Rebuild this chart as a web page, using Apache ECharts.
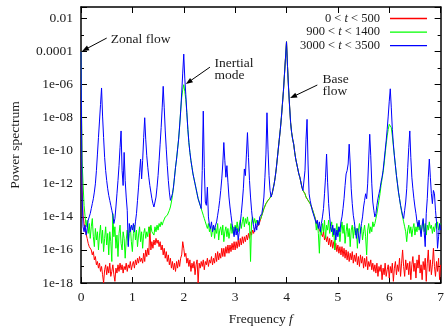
<!DOCTYPE html>
<html>
<head>
<meta charset="utf-8">
<script src="https://cdn.jsdelivr.net/npm/echarts@6/dist/echarts.min.js"></script>
<style>
  html, body { margin: 0; padding: 0; background: #fff; }
  #chart { width: 447px; height: 331px; }
</style>
</head>
<body>
<div id="chart"></div>
<script>
// Power spectra on a 0.02 frequency grid (f = 0 .. 7), stored as log10 of the power.
const FREQ_STEP = 0.02;

const seriesNames = ['0 < t < 500', '900 < t < 1400', '3000 < t < 3500'];
const seriesColors = ['#ff0000', '#00ff00', '#0000ff'];

// 0 < t < 500
const redLog = [
  -4.0, -12.0, -13.9, -14.4, -14.8, -15.05, -15.3, -15.6, -15.8, -15.7,
  -16.0, -16.3, -16.1, -16.6, -16.4, -16.9, -16.7, -17.1, -16.8, -17.3,
  -17.0, -17.5, -18.0, -17.2, -16.9, -17.5, -17.0, -17.4, -16.8, -17.6,
  -17.3, -16.9, -17.5, -17.9, -17.1, -17.4, -16.9, -17.3, -16.8, -17.2,
  -16.9, -17.4, -17.0, -17.2, -16.8, -17.3, -16.9, -17.1, -16.7, -17.2,
  -16.9, -16.7, -17.1, -16.6, -16.9, -16.5, -16.8, -16.4, -16.7, -16.5,
  -16.8, -16.2, -16.7, -16.0, -16.4, -15.9, -16.3, -14.6, -16.0, -15.5,
  -15.9, -15.4, -15.7, -15.3, -15.6, -15.4, -15.8, -15.5, -16.0, -15.7,
  -16.3, -15.9, -16.5, -16.1, -16.7, -16.3, -16.9, -16.5, -17.1, -16.7,
  -17.2, -16.8, -17.3, -16.7, -17.1, -16.6, -17.0, -16.5, -16.3, -15.5,
  -15.9, -16.4, -16.2, -16.8, -16.5, -17.0, -16.6, -17.3, -16.8, -17.1,
  -16.7, -17.5, -16.9, -16.6, -18.0, -16.8, -17.1, -16.7, -17.0, -16.6,
  -17.2, -16.7, -16.9, -16.5, -17.0, -16.6, -16.8, -16.4, -16.9, -16.5,
  -16.8, -16.2, -16.7, -16.1, -16.6, -16.2, -16.5, -15.9, -16.4, -15.9,
  -16.4, -15.8, -16.2, -15.7, -16.2, -15.7, -16.1, -15.6, -16.0, -15.5,
  -16.0, -15.5, -15.9, -15.4, -15.8, -15.3, -15.7, -15.2, -15.6, -15.2,
  -15.5, -15.1, -15.4, -15.0, -15.3, -14.9, -15.1, -14.8, -15.0, -14.7,
  -14.7, -14.6, -14.55, -14.5, -14.4, -14.1, -13.9, -13.7, -13.5, -13.4,
  -13.2, -13.1, -13.0, -12.9, -12.85, -12.8, -12.6, -12.3, -12.0, -11.6,
  -11.1, -10.5, -9.9, -9.3, -8.7, -8.0, -7.2, -6.4, -5.4, -4.4,
  -3.4, -4.9, -6.2, -7.3, -8.3, -8.9, -9.3, -9.6, -10.1, -10.5,
  -10.8, -11.1, -11.4, -11.6, -11.9, -12.2, -12.4, -12.5, -12.6, -12.8,
  -12.9, -13.0, -13.1, -13.2, -13.3, -13.5, -13.7, -13.9, -14.1, -14.3,
  -14.5, -14.6, -14.8, -14.9, -15.0, -15.2, -14.9, -15.4, -15.1, -15.5,
  -15.2, -15.7, -15.3, -15.8, -15.4, -15.9, -15.5, -16.0, -15.6, -16.1,
  -15.7, -16.2, -15.8, -16.3, -15.8, -16.4, -15.9, -16.5, -16.0, -16.6,
  -16.1, -16.7, -16.2, -16.6, -16.1, -16.8, -16.3, -16.7, -16.2, -16.9,
  -16.4, -17.0, -16.3, -16.8, -16.4, -17.1, -16.5, -17.0, -16.4, -17.2,
  -16.7, -17.0, -16.6, -17.2, -16.8, -17.3, -16.9, -17.4, -16.8, -17.6,
  -17.0, -17.3, -16.9, -17.8, -17.1, -17.5, -16.8, -17.6, -17.2, -16.9,
  -17.7, -17.0, -17.4, -16.8, -17.9, -17.1, -16.7, -17.5, -16.9, -17.3,
  -16.5, -17.6, -16.8, -16.0, -17.0, -17.6, -16.6, -17.2, -16.8, -17.5,
  -16.7, -17.8, -16.9, -16.4, -17.3, -16.8, -17.7, -16.6, -17.1, -16.3,
  -17.4, -16.9, -17.8, -16.7, -17.2, -16.5, -17.9, -16.8, -16.0, -17.3,
  -16.6, -17.5, -16.9, -15.9, -17.0, -17.6, -16.7, -17.3, -16.5, -17.8,
  -16.9
];

// 900 < t < 1400
const greenLog = [
  -4.0, -10.5, -12.0, -13.3, -14.0, -14.6, -14.2, -15.0, -14.4, -15.3,
  -14.6, -14.1, -15.2, -15.8, -14.7, -15.4, -14.9, -16.0, -15.1, -14.5,
  -15.6, -14.8, -16.1, -15.3, -14.6, -15.7, -15.0, -16.3, -14.9, -15.5,
  -16.7, -13.8, -15.2, -14.6, -15.9, -15.1, -16.4, -15.0, -14.5, -15.6,
  -16.0, -14.9, -15.3, -16.5, -15.4, -14.8, -15.7, -15.0, -14.6, -15.5,
  -16.1, -15.0, -14.5, -15.4, -14.8, -15.8, -15.1, -14.6, -15.5, -14.9,
  -15.9, -15.0, -14.7, -15.3, -14.9, -15.2, -14.6, -15.0, -14.5, -14.9,
  -14.8, -15.1, -14.6, -14.9, -14.5, -14.8, -14.4, -14.6, -14.3, -14.5,
  -14.3, -14.2, -14.0, -14.1, -13.9, -13.8, -13.6, -13.4, -13.1, -12.7,
  -12.2, -11.6, -11.0, -10.5, -9.9, -9.3, -8.5, -7.6, -6.8, -6.3,
  -6.0, -6.4, -6.9, -7.7, -8.7, -9.5, -10.1, -10.6, -11.0, -11.4,
  -11.7, -12.0, -12.3, -12.6, -12.9, -13.1, -13.3, -13.5, -13.7, -13.9,
  -14.1, -14.3, -14.5, -14.7, -14.4, -14.9, -14.6, -15.2, -14.8, -14.5,
  -15.3, -14.7, -15.0, -14.4, -15.4, -14.8, -14.6, -15.1, -14.5, -15.5,
  -14.9, -14.6, -15.2, -14.7, -15.3, -14.9, -14.4, -15.0, -14.6, -15.1,
  -14.5, -14.8, -14.3, -14.9, -14.5, -14.2, -14.7, -14.3, -14.0, -14.6,
  -14.1, -14.4, -14.0, -14.5, -14.3, -16.7, -14.3, -14.0, -14.4, -14.1,
  -14.4, -14.2, -14.5, -14.3, -14.4, -14.1, -13.9, -13.7, -13.5, -13.4,
  -13.2, -13.1, -13.0, -12.9, -12.85, -12.8, -12.6, -12.3, -12.0, -11.6,
  -11.1, -10.5, -9.9, -9.3, -8.7, -8.0, -7.2, -6.4, -5.4, -4.4,
  -3.4, -4.9, -6.2, -7.3, -8.3, -8.9, -9.3, -9.6, -10.1, -10.5,
  -10.8, -11.1, -11.4, -11.6, -11.9, -12.2, -12.4, -12.5, -12.6, -12.8,
  -12.9, -13.0, -13.1, -13.2, -13.3, -13.5, -13.7, -13.9, -14.1, -14.8,
  -14.3, -15.0, -16.2, -14.6, -15.1, -14.4, -14.9, -14.2, -15.3, -14.5,
  -14.8, -14.2, -15.0, -14.6, -14.3, -15.2, -14.7, -16.0, -14.9, -14.4,
  -15.1, -14.6, -15.5, -14.8, -14.3, -15.0, -14.5, -15.6, -14.9, -14.4,
  -15.2, -14.7, -15.8, -14.8, -14.5, -15.3, -14.6, -15.1, -14.7, -15.9,
  -14.8, -14.4, -15.0, -14.6, -15.4, -14.9, -14.5, -15.2, -16.3, -14.8,
  -14.4, -15.0, -14.6, -14.9, -14.3, -14.6, -14.4, -14.1, -13.8, -13.4,
  -13.0, -12.6, -12.1, -11.7, -11.3, -10.8, -10.2, -9.6, -9.1, -8.7,
  -8.4, -8.3, -8.6, -9.1, -9.7, -10.3, -10.9, -11.5, -12.0, -12.5,
  -12.9, -13.3, -13.7, -14.0, -14.3, -14.6, -14.9, -15.5, -14.8, -14.5,
  -15.0, -14.6, -15.2, -14.7, -14.4, -15.1, -14.6, -14.9, -14.3, -14.8,
  -14.5, -15.0, -14.6, -14.2, -14.9, -14.4, -15.1, -14.5, -14.8, -14.3,
  -14.7, -14.5, -15.0, -14.6, -14.9, -14.4, -14.7, -14.3, -14.8, -14.5,
  -14.4
];

// 3000 < t < 3500
const blueLog = [
  -4.0, -12.5, -14.6, -14.9, -14.5, -15.1, -14.7, -14.2, -14.0, -13.8,
  -13.5, -13.2, -12.9, -12.5, -12.0, -11.2, -10.2, -9.2, -8.2, -7.2,
  -6.2, -7.9, -9.2, -10.4, -11.2, -11.8, -12.3, -12.7, -13.0, -13.3,
  -13.6, -13.9, -14.4, -14.1, -13.4, -12.6, -11.8, -10.9, -9.8, -8.8,
  -11.2, -12.1, -10.1, -11.8, -12.8, -13.6, -15.8, -14.4, -14.9, -14.5,
  -14.8, -14.4, -14.9, -14.3, -13.8, -13.0, -12.2, -11.3, -10.5, -11.7,
  -10.6, -9.2, -8.0, -9.3, -10.3, -11.0, -11.6, -12.1, -12.5, -12.9,
  -13.2, -13.4, -13.3, -12.8, -12.2, -11.5, -10.6, -9.6, -8.6, -7.4,
  -6.1, -7.4, -8.8, -9.9, -10.9, -11.8, -12.5, -13.0, -13.1, -12.6,
  -12.2, -11.6, -11.0, -10.5, -9.9, -9.3, -8.5, -7.6, -6.5, -5.3,
  -4.15, -5.6, -6.6, -7.7, -8.7, -9.5, -10.1, -10.6, -11.0, -11.4,
  -11.7, -12.0, -12.3, -12.6, -12.9, -13.1, -13.3, -13.5, -11.2, -7.6,
  -11.0, -13.1, -13.3, -12.2, -14.0, -14.5, -14.7, -14.3, -14.9, -14.5,
  -14.8, -14.5, -14.3, -13.9, -13.5, -13.0, -12.4, -11.7, -10.8, -9.5,
  -10.6, -11.6, -10.9, -11.9, -12.8, -13.4, -13.9, -14.4, -14.8, -15.2,
  -14.6, -15.1, -14.7, -15.4, -14.9, -14.4, -13.8, -13.1, -12.3, -11.1,
  -11.5, -10.2, -8.9, -10.4, -11.8, -12.8, -13.6, -14.2, -14.6, -14.9,
  -14.4, -14.8, -14.2, -14.5, -14.0, -14.1, -13.8, -13.4, -12.8, -11.6,
  -10.2, -7.7, -9.9, -11.5, -12.4, -12.8, -12.6, -12.3, -12.0, -11.6,
  -11.1, -10.5, -9.9, -9.3, -8.7, -8.0, -7.2, -6.4, -5.4, -4.4,
  -3.4, -4.9, -6.2, -7.3, -8.3, -8.9, -9.3, -9.6, -10.1, -10.5,
  -10.8, -11.1, -11.4, -11.6, -11.9, -12.2, -12.4, -12.3, -11.2, -9.3,
  -8.1, -10.8, -12.6, -13.0, -13.3, -13.6, -13.8, -14.0, -14.1, -14.4,
  -14.2, -14.7, -14.3, -14.9, -14.4, -14.0, -13.5, -12.6, -11.6, -10.2,
  -11.9, -13.2, -14.0, -14.6, -14.9, -14.5, -15.1, -14.7, -15.4, -14.8,
  -15.2, -14.6, -14.9, -14.3, -14.0, -13.5, -12.9, -12.1, -11.4, -11.2,
  -10.8, -9.6, -10.8, -12.3, -13.2, -13.9, -14.3, -14.8, -15.3, -14.7,
  -15.1, -15.6, -14.8, -14.4, -14.0, -13.4, -13.0, -12.6, -12.9, -12.0,
  -10.5, -9.0, -10.3, -12.0, -13.1, -13.6, -14.0, -13.8, -13.3, -12.9,
  -12.6, -12.3, -11.9, -11.6, -11.2, -10.6, -10.0, -9.4, -8.7, -7.9,
  -7.0, -6.25, -7.4, -8.7, -9.6, -10.3, -10.9, -11.5, -12.0, -12.5,
  -12.9, -13.3, -13.6, -13.9, -14.1, -13.6, -13.1, -12.3, -11.0, -9.8,
  -8.8, -10.4, -11.6, -12.3, -12.9, -13.4, -13.8, -14.3, -14.6, -14.2,
  -14.7, -15.2, -14.5, -14.1, -14.9, -15.8, -13.8, -12.9, -11.6, -10.5,
  -11.6, -12.6, -13.2, -12.4, -12.6, -13.6, -14.3, -15.9, -15.2, -14.4,
  -14.8
];

// Decade ticks (log10) and how they are written on the axis
const yTickExps = [-18, -16, -14, -12, -10, -8, -6, -4, -2];
const yTickLabels = ['1e-18', '1e-16', '1e-14', '1e-12', '1e-10', '1e-08', '1e-06', '0.0001', '0.01'];

// Annotations: [f, log10 P] for the text anchor, the arrow tail and the arrow head
const notes = [
  { text: 'Zonal flow',     at: [0.58, -3.25], tail: [0.50, -3.18], head: [0.02, -3.97] },
  { text: 'Inertial\nmode', at: [2.60, -5.08], tail: [2.51, -4.94], head: [2.04, -5.96] },
  { text: 'Base\nflow',     at: [4.70, -6.05], tail: [4.60, -6.02], head: [4.07, -6.81] }
];

const FONT = '"Liberation Serif", "Times New Roman", serif';
const FS = 13.5;
const LEG_FS = 12.5;
const TXT = '#1a1a1a';

function pairs(vals) {
  return vals.map((v, i) => [+(i * FREQ_STEP).toFixed(2), v]);
}

const chart = echarts.init(document.getElementById('chart'), null, { renderer: 'canvas' });

const yMin = -18, yMax = -1.3;
const axisLineStyle = { show: true, onZero: false, lineStyle: { color: '#000', width: 1.5 } };
const tickMajor = { show: true, inside: true, length: 6, lineStyle: { color: '#000', width: 1 } };
const tickMinor = { show: true, inside: true, length: 3, lineStyle: { color: '#000', width: 1 } };

function yAxisDef(position, interval, major, withLabels) {
  return {
    type: 'value', min: yMin, max: yMax, interval: interval, position: position,
    axisLine: major ? axisLineStyle : { show: false, onZero: false },
    axisTick: major ? tickMajor : tickMinor,
    axisLabel: withLabels ? {
      show: true, margin: 8, fontFamily: FONT, fontSize: FS, color: TXT,
      formatter: (v) => {
        const k = yTickExps.indexOf(Math.round(v * 100) / 100);
        return k >= 0 ? yTickLabels[k] : '';
      }
    } : { show: false },
    splitLine: { show: false },
    name: withLabels ? 'Power spectrum' : '',
    nameLocation: 'middle', nameGap: 59,
    nameTextStyle: { fontFamily: FONT, fontSize: FS, color: TXT }
  };
}

const option = {
  animation: false,
  backgroundColor: '#fff',
  grid: { left: 81, right: 5, top: 7, bottom: 41, containLabel: false },
  legend: {
    orient: 'vertical', right: 20, top: 12, align: 'right', padding: 0,
    icon: 'rect', itemWidth: 37, itemHeight: 1.3, itemGap: 0.6,
    data: seriesNames,
    formatter: (name) => name.replace(' t ', ' {i|t} '),
    textStyle: {
      fontFamily: FONT, fontSize: LEG_FS, color: TXT, padding: [0, 5, 0, 0],
      rich: { i: { fontFamily: FONT, fontSize: LEG_FS, color: TXT, fontStyle: 'italic' } }
    }
  },
  xAxis: [
    {
      type: 'value', min: 0, max: 7, interval: 1, position: 'bottom',
      axisLine: axisLineStyle, axisTick: tickMajor,
      axisLabel: { margin: 7, fontFamily: FONT, fontSize: FS, color: TXT },
      splitLine: { show: false },
      name: 'Frequency {i|f}', nameLocation: 'middle', nameGap: 29,
      nameTextStyle: {
        fontFamily: FONT, fontSize: FS, color: TXT,
        rich: { i: { fontFamily: FONT, fontSize: FS, color: TXT, fontStyle: 'italic' } }
      }
    },
    {
      type: 'value', min: 0, max: 7, interval: 1, position: 'top',
      axisLine: axisLineStyle, axisTick: tickMajor,
      axisLabel: { show: false }, splitLine: { show: false }
    }
  ],
  yAxis: [
    yAxisDef('left', 2, true, true),
    yAxisDef('left', 1, false, false),
    yAxisDef('right', 2, true, false),
    yAxisDef('right', 1, false, false)
  ],
  series: [redLog, greenLog, blueLog].map((vals, k) => ({
    name: seriesNames[k],
    type: 'line',
    xAxisIndex: 0, yAxisIndex: 0,
    data: pairs(vals),
    showSymbol: false, symbol: 'none',
    lineStyle: { color: seriesColors[k], width: 1 },
    itemStyle: { color: seriesColors[k] },
    clip: true,
    z: 2 + k
  }))
};

chart.setOption(option);

// Annotation text and arrows, placed in data coordinates
function toPx(p) {
  return chart.convertToPixel({ xAxisIndex: 0, yAxisIndex: 0 }, p);
}
const graphics = [];
notes.forEach((n) => {
  const a = toPx(n.at), t = toPx(n.tail), h = toPx(n.head);
  graphics.push({
    type: 'text', x: a[0], y: a[1], z: 100,
    style: { text: n.text, font: FS + 'px ' + FONT, fill: TXT, textAlign: 'left', textVerticalAlign: 'middle', lineHeight: 12.5 }
  });
  const dx = h[0] - t[0], dy = h[1] - t[1];
  const len = Math.sqrt(dx * dx + dy * dy);
  const ux = dx / len, uy = dy / len;
  const nx = -uy, ny = ux;
  const hl = 7, hw = 2.6;
  const bx = h[0] - ux * hl, by = h[1] - uy * hl;
  graphics.push({
    type: 'line', z: 100,
    shape: { x1: t[0], y1: t[1], x2: h[0] - ux * 4, y2: h[1] - uy * 4 },
    style: { stroke: '#000', lineWidth: 1 }
  });
  graphics.push({
    type: 'polygon', z: 100,
    shape: { points: [[h[0], h[1]], [bx + nx * hw, by + ny * hw], [bx - nx * hw, by - ny * hw]] },
    style: { fill: '#000' }
  });
});
chart.setOption({ graphic: graphics });
</script>
</body>
</html>
